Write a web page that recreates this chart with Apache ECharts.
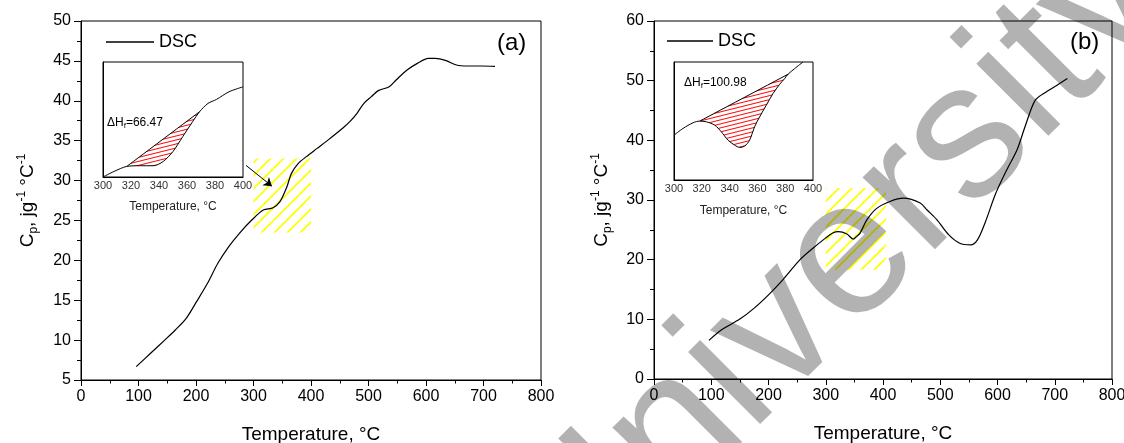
<!DOCTYPE html>
<html>
<head>
<meta charset="utf-8">
<title>DSC Cp</title>
<script src="https://cdn.jsdelivr.net/npm/echarts@6/dist/echarts.min.js"></script>
<style>
  html, body { margin: 0; padding: 0; background: #fff; }
  #main { width: 1124px; height: 443px; }
</style>
</head>
<body>
<div id="main"></div>
<script>
// (a) 主曲线
const tempA = [96, 121, 145.5, 164, 183, 201, 220, 238, 257, 275.5, 297, 317, 334, 346, 358, 366, 378, 392, 410, 430, 455, 467.5, 480, 492, 505, 517, 536, 548, 567, 585, 604, 616, 635, 653, 672, 697, 720];
const cpA = [6.67, 8.35, 10.0, 11.27, 12.73, 14.82, 17.12, 19.63, 21.72, 23.39, 25.05, 26.3, 26.6, 27.35, 29.2, 30.9, 32.15, 33.0, 34.0, 35.1, 36.55, 37.38, 38.43, 39.68, 40.52, 41.27, 41.77, 42.6, 43.86, 44.69, 45.32, 45.32, 45.03, 44.48, 44.36, 44.36, 44.3];
// (b) 主曲线
const tempB = [96, 118, 150, 175, 200, 225, 255, 276, 299, 313, 322, 337, 348, 354, 360, 372, 389, 412, 436, 465, 477, 494, 515, 534, 553, 565, 578, 597, 616, 634, 650, 666, 685, 704, 722];
const cpB = [6.47, 8.25, 10.04, 11.88, 14.11, 16.62, 20.0, 21.8, 23.57, 24.5, 24.7, 24.3, 23.45, 23.9, 24.45, 26.7, 28.6, 29.75, 30.3, 29.5, 28.33, 26.7, 24.15, 22.75, 22.47, 23.31, 26.1, 31.12, 35.02, 38.37, 42.83, 46.73, 48.12, 49.24, 50.35];

// 插图曲线 (纵轴为相对值 0-100)
const insetTempA = [300, 308, 317, 326, 336, 343, 350, 357, 364, 369, 375, 381, 390, 400];
const insetValA = [0, 4.9, 9.2, 9.8, 9.8, 13.5, 22.2, 35.2, 48.1, 56.8, 64, 67.4, 74.1, 78.4];
const baseTempA = [317, 369];
const baseValA = [9.2, 56.8];

const insetTempB = [300, 306.5, 313.7, 318.5, 323.3, 329.3, 334.1, 338.8, 343.6, 347.2, 350.8, 354.4, 358, 361.6, 366.4, 371.2, 376, 379.6, 382, 386.8, 392.8];
const insetValB = [38, 43.7, 48.5, 49.9, 49.3, 46.5, 40.8, 33.8, 29.6, 27.6, 28.7, 33.8, 45.1, 53.5, 63.4, 73.2, 81.1, 85.9, 89.6, 94.4, 100];
const baseTempB = [318.5, 382];
const baseValB = [49.9, 89.6];

const dHA = '66.47';
const dHB = '100.98';

// 黄色阴影框 [[x0, y0], [x1, y1]] 与箭头
const hatchA = [[300, 23.5], [400, 32.75]];
const hatchB = [[300, 18.3], [405, 32]];
const arrowA = [[287, 31.9], [332, 29.3]];

// 坐标轴刻度 [min, max, step]
const xTicks = [0, 800, 100];
const yTicksA = [5, 50, 5];
const yTicksB = [0, 60, 10];
const insetTicks = [300, 400, 20];

const FONT = '"Liberation Sans", Arial, sans-serif';

function pairs(xs, ys) {
  return xs.map((x, i) => [x, ys[i]]);
}

// 斜线填充图案
function hatch(color, w, h, lw) {
  const c = document.createElement('canvas');
  c.width = w;
  c.height = h;
  const ctx = c.getContext('2d');
  ctx.strokeStyle = color;
  ctx.lineWidth = lw;
  for (let k = -1; k <= 1; k++) {
    ctx.beginPath();
    ctx.moveTo(0, h + k * h);
    ctx.lineTo(w, k * h);
    ctx.stroke();
  }
  return { image: c, repeat: 'repeat' };
}
const yellowPattern = hatch('#ffff00', 13, 13, 1.8);
const redPattern = hatch('#ff0000', 16, 4, 1);

function fillPoly(ts, vs, t0, t1) {
  return pairs(ts, vs).filter(p => p[0] >= t0 && p[0] <= t1);
}
const polyA = fillPoly(insetTempA, insetValA, baseTempA[0], baseTempA[1]);
const polyB = fillPoly(insetTempB, insetValB, baseTempB[0], baseTempB[1]);

function mainX(grid) {
  return {
    gridIndex: grid, type: 'value', min: xTicks[0], max: xTicks[1], interval: xTicks[2],
    name: 'Temperature, °C', nameLocation: 'middle', nameGap: 45,
    nameTextStyle: { fontSize: 19, color: '#000', fontFamily: FONT },
    axisLine: { lineStyle: { color: '#000', width: 1 } },
    axisTick: { length: 6, lineStyle: { color: '#000' } },
    minorTick: { show: true, splitNumber: 2, length: 3.5, lineStyle: { color: '#000' } },
    axisLabel: { fontSize: 16, color: '#000', margin: 9, fontFamily: FONT },
    splitLine: { show: false }
  };
}
function mainY(grid, ticks, minor, gap) {
  return {
    gridIndex: grid, type: 'value', min: ticks[0], max: ticks[1], interval: ticks[2],
    name: 'C{sub|p}, jg{sup|-1} °C{sup|-1}', nameLocation: 'middle', nameRotate: 90, nameGap: gap,
    nameTextStyle: {
      fontSize: 19, color: '#000', fontFamily: FONT, lineHeight: 24,
      rich: {
        sub: { fontSize: 12, fontFamily: FONT, color: '#000', verticalAlign: 'bottom', lineHeight: 12 },
        sup: { fontSize: 12, fontFamily: FONT, color: '#000', verticalAlign: 'top', lineHeight: 12 }
      }
    },
    axisLine: { show: true, lineStyle: { color: '#000', width: 1 } },
    axisTick: { show: true, length: 7, lineStyle: { color: '#000' } },
    minorTick: { show: true, splitNumber: minor, length: 4, lineStyle: { color: '#000' } },
    axisLabel: { fontSize: 16, color: '#000', margin: 10, fontFamily: FONT },
    splitLine: { show: false }
  };
}
function insetX(grid, gap) {
  return {
    gridIndex: grid, type: 'value', min: insetTicks[0], max: insetTicks[1], interval: insetTicks[2],
    name: 'Temperature, °C', nameLocation: 'middle', nameGap: gap,
    nameTextStyle: { fontSize: 12, color: '#222', fontFamily: FONT },
    axisLine: { lineStyle: { color: '#000', width: 1 } },
    axisTick: { show: false },
    axisLabel: { fontSize: 11, color: '#333', margin: 3, fontFamily: FONT },
    splitLine: { show: false }
  };
}
function insetY(grid) {
  return {
    gridIndex: grid, type: 'value', min: 0, max: 100,
    axisLine: { show: true, lineStyle: { color: '#000', width: 1 } },
    axisTick: { show: false }, axisLabel: { show: false }, splitLine: { show: false }
  };
}
function curve(name, xi, data, width) {
  return {
    name: name, type: 'line', xAxisIndex: xi, yAxisIndex: xi, data: data,
    showSymbol: false, smooth: 0.3, silent: true, z: 3,
    lineStyle: { color: '#000', width: width }, itemStyle: { color: '#000' }
  };
}
function fillSeries(xi, poly) {
  return {
    type: 'custom', xAxisIndex: xi, yAxisIndex: xi, silent: true, z: 2,
    data: [[350, 50]],
    renderItem: function (params, api) {
      return {
        type: 'polygon',
        shape: { points: poly.map(p => api.coord(p)) },
        style: { fill: redPattern, stroke: null }
      };
    }
  };
}
function label(text, x, y, size) {
  return {
    type: 'text', x: x, y: y, silent: true,
    style: { text: text, fontSize: size, fontFamily: FONT, fill: '#000', verticalAlign: 'middle' }
  };
}
function dHLabel(value, x, y) {
  return {
    type: 'text', x: x, y: y, silent: true,
    style: {
      text: 'ΔH{s|f}=' + value, fontSize: 12, fontFamily: FONT, fill: '#000',
      verticalAlign: 'middle', lineHeight: 14,
      rich: { s: { fontSize: 8, fontFamily: FONT, fill: '#000', verticalAlign: 'bottom', lineHeight: 8 } }
    }
  };
}
function box(left, top, width, height, bg) {
  return {
    left: left, top: top, width: width, height: height, outerBoundsMode: 'none',
    show: true, borderColor: '#000', borderWidth: 1, backgroundColor: bg
  };
}

const seriesA = curve('DSC', 0, pairs(tempA, cpA), 1.2);
seriesA.markArea = {
  silent: true,
  itemStyle: { color: yellowPattern },
  data: [[{ coord: hatchA[0] }, { coord: hatchA[1] }]]
};
seriesA.markLine = {
  silent: true, symbol: ['none', 'arrow'], symbolSize: 8,
  lineStyle: { color: '#000', width: 1, type: 'solid' },
  label: { show: false },
  data: [[{ coord: arrowA[0] }, { coord: arrowA[1] }]]
};
const seriesB = curve('DSC', 2, pairs(tempB, cpB), 1.2);
seriesB.markArea = {
  silent: true,
  itemStyle: { color: yellowPattern },
  data: [[{ coord: hatchB[0] }, { coord: hatchB[1] }]]
};

const chart = echarts.init(document.getElementById('main'));
chart.setOption({
  animation: false,
  backgroundColor: '#fff',
  textStyle: { fontFamily: FONT },
  legend: [
    { data: [{ name: 'DSC', icon: 'rect' }], left: 106, top: 33, padding: 0, itemWidth: 48, itemHeight: 1.5,
      selectedMode: false, textStyle: { fontSize: 18, color: '#000', fontFamily: FONT } },
    { data: [{ name: 'DSC', icon: 'rect' }], left: 667, top: 32, padding: 0, itemWidth: 46, itemHeight: 1.5,
      selectedMode: false, textStyle: { fontSize: 18, color: '#000', fontFamily: FONT } }
  ],
  grid: [
    box(81, 21, 460, 359, 'transparent'),
    box(103, 62, 140, 115, '#fff'),
    box(654, 21, 458, 358, 'transparent'),
    box(674, 62, 139, 118, '#fff')
  ],
  xAxis: [mainX(0), insetX(1, 24), mainX(2), insetX(3, 25)],
  yAxis: [mainY(0, yTicksA, 2, 41), insetY(1), mainY(2, yTicksB, 2, 40), insetY(3)],
  series: [
    seriesA,
    fillSeries(1, polyA),
    curve('insetA', 1, pairs(insetTempA, insetValA), 1),
    curve('baseA', 1, pairs(baseTempA, baseValA), 1),
    seriesB,
    fillSeries(3, polyB),
    curve('insetB', 3, pairs(insetTempB, insetValB), 1),
    curve('baseB', 3, pairs(baseTempB, baseValB), 1)
  ],
  graphic: [
    label('(a)', 497, 43, 24),
    label('(b)', 1070, 42, 24),
    dHLabel(dHA, 107, 123),
    dHLabel(dHB, 684, 83),
    // 水印 (半透明黑, 效果等同于灰色正片叠底)
    {
      type: 'text', x: 539, y: 570, rotation: Math.PI / 4, z: 100, silent: true,
      style: {
        text: 'University', fontSize: 193, fontFamily: FONT, fill: 'rgba(0,0,0,0.3)',
        verticalAlign: 'middle', textAlign: 'left'
      }
    }
  ]
});
</script>
</body>
</html>
